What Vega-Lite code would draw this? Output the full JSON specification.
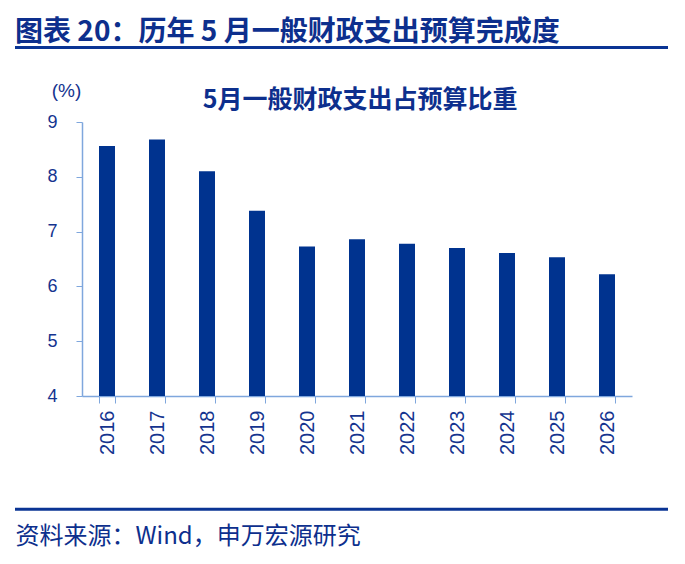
{
  "$schema": "https://vega.github.io/schema/vega-lite/v6.json",
  "width": 653,
  "height": 274,
  "autosize": {"type": "none"},
  "padding": {"left": 15, "top": 122, "right": 17, "bottom": 168},
  "background": "white",
  "config": {"view": {"stroke": null}, "font": "Noto Sans CJK SC"},
  "title": {
    "text": "图表 20：历年 5 月一般财政支出预算完成度",
    "anchor": "start",
    "frame": "group",
    "font": "Noto Sans CJK SC",
    "fontSize": 28,
    "fontWeight": "bold",
    "color": "#0d2f8d",
    "baseline": "bottom",
    "offset": 2,
    "dy": 31
  },
  "layer": [
    {
      "data": {
        "values": [
          {"year": "2016", "value": 8.56},
          {"year": "2017", "value": 8.68},
          {"year": "2018", "value": 8.10},
          {"year": "2019", "value": 7.38},
          {"year": "2020", "value": 6.73},
          {"year": "2021", "value": 6.86},
          {"year": "2022", "value": 6.78},
          {"year": "2023", "value": 6.70},
          {"year": "2024", "value": 6.61},
          {"year": "2025", "value": 6.53},
          {"year": "2026", "value": 6.22}
        ]
      },
      "mark": {"type": "bar", "color": "#00338f"},
      "encoding": {
        "x": {
          "field": "year",
          "type": "nominal",
          "sort": null,
          "scale": {"range": [67, 617], "paddingInner": 0.68, "paddingOuter": 0.34},
          "axis": {
            "title": "资料来源：Wind，申万宏源研究",
            "titleX": 0,
            "titleY": 140,
            "titleAngle": 0,
            "titleAlign": "left",
            "titleBaseline": "middle",
            "titleFont": "Noto Sans CJK SC",
            "titleFontSize": 24,
            "titleFontWeight": "normal",
            "titleColor": "#0d2f8d",
            "titleLimit": 1000,
            "labelAngle": -90,
            "labelAlign": "right",
            "labelBaseline": "middle",
            "labelFont": "Liberation Sans",
            "labelFontSize": 20,
            "labelColor": "#14348f",
            "labelPadding": 7,
            "tickBand": "extent",
            "tickSize": 7,
            "tickColor": "#7fa7dd",
            "domainColor": "#7fa7dd",
            "domainWidth": 1.5,
            "grid": false
          }
        },
        "y": {
          "field": "value",
          "type": "quantitative",
          "scale": {"domain": [4, 9], "zero": false, "nice": false},
          "axis": {
            "title": "(%)",
            "titleAngle": 0,
            "titleX": -16,
            "titleY": -32,
            "titleAlign": "center",
            "titleBaseline": "middle",
            "titleFont": "Liberation Sans",
            "titleFontSize": 19,
            "titleFontWeight": "normal",
            "titleColor": "#14348f",
            "offset": -67,
            "values": [4, 5, 6, 7, 8, 9],
            "labelFont": "Liberation Sans",
            "labelFontSize": 18,
            "labelColor": "#14348f",
            "labelPadding": 19,
            "tickSize": 6,
            "tickColor": "#7fa7dd",
            "domainColor": "#7fa7dd",
            "domainWidth": 1.5,
            "grid": false
          }
        },
        "y2": {"datum": 4}
      }
    },
    {
      "data": {"values": [{}]},
      "mark": {"type": "rule", "color": "#0a3494", "strokeWidth": 3},
      "encoding": {"y": {"datum": 10.36}}
    },
    {
      "data": {"values": [{}]},
      "mark": {"type": "rule", "color": "#0a3494", "strokeWidth": 3},
      "encoding": {"y": {"datum": 1.934}}
    },
    {
      "data": {"values": [{"label": "5月一般财政支出占预算比重"}]},
      "mark": {
        "type": "text",
        "font": "Noto Sans CJK SC",
        "fontSize": 25,
        "fontWeight": "bold",
        "color": "#0d2f8d",
        "baseline": "middle",
        "dx": 3
      },
      "encoding": {
        "x": {"datum": "2021"},
        "y": {"datum": 9.41},
        "text": {"field": "label"}
      }
    }
  ]
}
